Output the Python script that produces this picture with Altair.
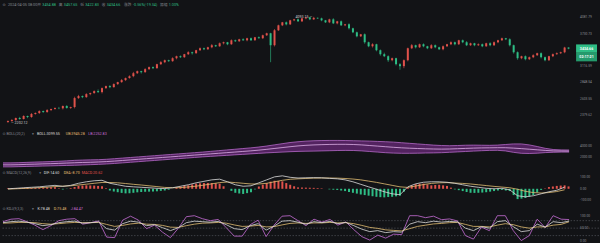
import altair as alt
import pandas as pd

# ---------------- data ----------------
closes = [
    2302, 2315, 2341, 2328, 2367, 2354, 2393, 2406, 2432, 2419,
    2446, 2460, 2473, 2470, 2501, 2475, 2487, 2613, 2642, 2627,
    2671, 2686, 2716, 2701, 2761, 2792, 2776, 2823, 2854, 2886,
    2918, 2950, 2998, 3032, 3015, 3066, 3100, 3083, 3151, 3186,
    3221, 3204, 3257, 3293, 3275, 3330, 3366, 3348, 3404, 3441,
    3422, 3460, 3499, 3479, 3537, 3557, 3518, 3596, 3577, 3616,
    3596, 3636, 3598, 3656, 3638, 3697, 3738, 3499, 3800, 3906,
    3971, 3927, 4015, 4037, 3993, 4059, 4082, 4037, 4070, 4059,
    4015, 3971, 4037, 3949, 3993, 3906, 3927, 3842, 3758, 3676,
    3717, 3557, 3479, 3518, 3404, 3330, 3293, 3221, 3257, 3151,
    3117, 3221, 3441, 3499, 3460, 3518, 3479, 3441, 3499, 3460,
    3422, 3479, 3518, 3557, 3518, 3596, 3557, 3499, 3537, 3499,
    3518, 3479, 3537, 3499, 3557, 3596, 3636, 3616, 3499, 3366,
    3257, 3293, 3239, 3275, 3311, 3348, 3275, 3221, 3293, 3330,
    3348, 3366, 3454.88, 3434.66,
]
first_open = 2290.0
wick_up = [
    8, 12, 6, 15, 10, 5, 14, 9, 11, 7,
    13, 6, 10, 16, 8, 12, 5, 20, 18, 9,
    14, 7, 11, 25, 10, 8, 15, 12, 6, 18,
    9, 14, 22, 10, 7, 16, 11, 13, 8, 20,
    12, 9, 17, 10, 14, 6, 19, 11, 8, 15,
    13, 10, 24, 9, 16, 12, 7, 18, 14, 10,
    20, 11, 15, 8, 17, 13, 12, 10, 26, 14,
    9, 18, 12, 12, 20, 11, 8, 6, 23.15, 10,
    16, 9, 14, 25, 11, 18, 10, 22, 13, 15,
    8, 17, 12, 20, 10, 14, 28, 16, 11, 9,
    19, 15, 12, 24, 10, 13, 17, 9, 21, 14,
    11, 16, 8, 18, 13, 10, 15, 22, 12, 9,
    17, 14, 11, 20, 16, 10, 13, 8, 19, 12,
    15, 9, 14, 11, 18, 10, 16, 12, 9, 13,
    15, 11, 14, 2.77,
]
wick_dn = [
    12, 9, 14, 10, 7, 15, 11, 8, 13, 10,
    9, 14, 8, 12, 16, 10, 13, 18, 11, 15,
    10, 17, 9, 14, 20, 12, 16, 8, 13, 11,
    15, 10, 18, 12, 22, 9, 14, 16, 11, 13,
    17, 12, 10, 20, 14, 11, 15, 25, 9, 13,
    16, 12, 19, 14, 10, 22, 18, 11, 15, 13,
    12, 20, 16, 14, 11, 18, 15, 313, 24, 13,
    17, 22, 14, 19, 12, 16, 21, 18, 13, 15,
    20, 14, 18, 16, 22, 13, 19, 25, 17, 21,
    15, 28, 18, 24, 20, 26, 16, 30, 19, 22,
    61, 35, 20, 16, 22, 14, 19, 17, 13, 18,
    15, 20, 12, 17, 21, 14, 18, 16, 13, 19,
    14, 17, 11, 20, 15, 18, 12, 16, 22, 25,
    28, 18, 20, 15, 17, 13, 22, 19, 14, 16,
    12, 15, 18, 11.83,
]
price_ticks = [4081.79, 3730.73, 3409.86, 3116.59, 2848.54, 2603.55, 2379.62]
boll_ticks = [2000, 4000]
macd_ticks = [-100, 0, 100]
kdj_ticks = [0, 50, 100]
peak_index = 78
peak_text = "4093.15 —"
low_index = 0
low_text = "— 2202.12"
countdown = "02:17:21"

boll_ub = [
    909, 909, 945, 1000, 1054, 1091, 1145, 1200, 1273, 1364,
    1418, 1455, 1491, 1564, 1673, 1782, 1891, 2000, 2109, 2218,
    2327, 2436, 2545, 2654, 2764, 2873, 3000, 3127, 3254, 3382,
    3509, 3636, 3782, 3964, 4182, 4400, 4618, 4763, 4872, 4945,
    4982, 5000, 5000, 4982, 4945, 4909, 4872, 4818, 4763, 4691,
    4582, 4473, 4364, 4254, 4145, 4073, 4036, 4073, 4127, 4145,
    4127, 4109, 4145, 4254, 4364, 4364, 4182, 3891, 3564, 3345,
    3273, 3254,
]
boll_mb = [
    546, 546, 582, 636, 673, 727, 764, 818, 873, 927,
    982, 1018, 1073, 1145, 1236, 1345, 1455, 1564, 1673, 1782,
    1891, 2000, 2109, 2218, 2327, 2436, 2545, 2654, 2764, 2873,
    2982, 3091, 3218, 3364, 3527, 3691, 3854, 4000, 4109, 4182,
    4236, 4273, 4291, 4291, 4254, 4182, 4073, 3964, 3854, 3745,
    3654, 3582, 3527, 3473, 3436, 3418, 3436, 3491, 3545, 3600,
    3636, 3654, 3673, 3673, 3600, 3509, 3400, 3291, 3182, 3091,
    3073, 3054,
]
boll_lb = [
    182, 182, 218, 255, 291, 327, 364, 400, 436, 473,
    527, 582, 636, 709, 800, 909, 1018, 1127, 1236, 1345,
    1455, 1564, 1673, 1782, 1891, 2000, 2091, 2182, 2273, 2364,
    2455, 2545, 2636, 2727, 2800, 2873, 2945, 3000, 3036, 3054,
    3091, 3127, 3164, 3182, 3164, 3091, 2982, 2873, 2764, 2691,
    2654, 2654, 2673, 2709, 2727, 2764, 2836, 2909, 2982, 3054,
    3127, 3182, 3200, 3091, 2836, 2654, 2618, 2673, 2782, 2836,
    2873, 2873,
]
macd_dif = [
    0, 4, 9, 13, 17, 24, 30, 21, 30, 48,
    61, 70, 74, 48, 35, 22, 17, 13, 9, 4,
    2, 9, 22, 35, 52, 65, 78, 84, 61, 35,
    22, 26, 52, 78, 104, 113, 100, 94, 96, 97,
    96, 91, 87, 78, 61, 39, 17, -4, -26, -44,
    -52, 17, 43, 57, 61, 61, 57, 48, 35, 22,
    13, 4, 0, 4, -9, -61, -70, -61, -44, -26,
    -13, 14.60,
]
macd_dea = [
    -3, 0, 3, 6, 10, 14, 19, 23, 26, 33,
    40, 48, 55, 55, 52, 46, 39, 33, 26, 19,
    12, 9, 10, 16, 23, 32, 43, 54, 59, 54,
    48, 42, 42, 48, 61, 74, 83, 87, 90, 93,
    94, 94, 93, 90, 85, 78, 67, 56, 43, 30,
    17, 12, 24, 37, 47, 52, 54, 50, 47, 42,
    35, 28, 21, 15, 9, -4, -22, -33, -37, -33,
    -24, -8.70,
]
macd_hist = [
    5, 5, 6, 7, 8, 9, 8, 8, 9, 10,
    12, 13, 14, 4, -6, -2, 6, 15, 25, 28,
    30, 29, 28, 25, 22, 5, -15, -24, -30, -36,
    -40, -38, -35, -31, -28, -26, -25, -24, -22, -18,
    -15, -8, 0, 10, 20, 26, 30, 38, 45, 48,
    50, 51, 50, 48, 45, 22, 0, -18, -35, -41,
    -45, -38, -30, -5, 20, 36, 50, 62, 70, 68,
    65, 50, 35, 22, 12, 11, 10, 9, 8, 6,
    4, 0, -5, -8, -10, -15, -20, -28, -35, -42,
    -50, -55, -60, -65, -70, -73, -75, -72, -70, -66,
    -60, -25, 10, 28, 40, 43, 45, 38, 30, 33,
    35, 30, 25, 10, -5, -12, -20, -28, -35, -36,
    -35, -33, -30, -25, -20, -15, -10, -15, -20, -55,
    -90, -86, -80, -68, -55, -32, -10, 3, 15, 20,
    25, 28, 30, 20.62,
]
kdj_k = [
    72, 76, 78, 74, 68, 60, 64, 72, 76, 78,
    70, 72, 75, 48, 42, 68, 78, 74, 60, 64,
    52, 40, 52, 72, 78, 76, 74, 77, 64, 48,
    44, 60, 68, 42, 58, 78, 80, 74, 66, 76,
    72, 77, 68, 73, 60, 46, 36, 40, 32, 36,
    34, 66, 76, 72, 78, 74, 77, 75, 50, 40,
    56, 50, 76, 80, 56, 36, 40, 66, 54, 76,
    72, 78.48,
]
kdj_d = [
    70, 71, 73, 73, 72, 68, 66, 68, 71, 73,
    72, 72, 73, 65, 57, 61, 67, 70, 66, 65,
    61, 54, 53, 60, 66, 70, 71, 73, 70, 63,
    57, 58, 61, 55, 56, 63, 69, 71, 69, 71,
    71, 73, 71, 72, 68, 61, 53, 49, 43, 41,
    39, 48, 57, 62, 67, 69, 72, 73, 65, 57,
    57, 55, 62, 68, 64, 55, 50, 55, 55, 62,
    65, 75.48,
]
kdj_j = [
    76, 86, 88, 76, 62, 44, 60, 80, 86, 88,
    66, 72, 79, 14, 12, 82, 98, 82, 48, 62,
    34, 12, 50, 96, 100, 88, 80, 85, 52, 18,
    18, 64, 82, 16, 62, 98, 100, 80, 60, 86,
    74, 85, 62, 75, 44, 16, 2, 22, 10, 26,
    24, 100, 100, 92, 98, 84, 87, 79, 20, 6,
    54, 40, 100, 100, 40, 0, 20, 86, 52, 100,
    86, 84.47,
]
kdj_levels = [80, 50, 20]

assert len(closes) == len(wick_up) == len(wick_dn) == len(macd_hist) == 144
for s in (boll_ub, boll_mb, boll_lb, macd_dif, macd_dea, kdj_k, kdj_d, kdj_j):
    assert len(s) == 72

# ---------------- style ----------------
BG = "#121316"
GRID = "#24262c"
LBL = "#8a8d94"
GRAY = "#868990"
RED = "#e0524b"
GREEN = "#2ebd85"
WHITE = "#dcdcdc"
YELLOW = "#e2be72"
PURPLE = "#c86fd8"
FONT = "Roboto"
CJK = "Noto Sans CJK SC"
W = 600
LABEL_X = 581

XS = alt.Scale(domain=[-0.5, 149.5], nice=False, zero=False)
grid_x = [3.25, 17, 31, 44.75, 58.75, 72.5, 86.5, 100.25, 114.25, 128, 142]
XAX = alt.Axis(values=grid_x, grid=True, gridColor=GRID, gridWidth=0.6, labels=False,
               ticks=False, domain=False, title=None)


def ygrid(vals):
    return alt.Axis(orient="right", values=vals, grid=True, gridColor=GRID, gridWidth=0.6,
                    labels=False, ticks=False, domain=False, title=None)


def tick_labels(vals, scale):
    df = pd.DataFrame({"v": vals, "t": [f"{v:.2f}" for v in vals]})
    return alt.Chart(df).mark_text(align="left", baseline="middle", fontSize=3.3, font=FONT,
                                   color=LBL).encode(
        x=alt.value(LABEL_X), y=alt.Y("v:Q", scale=scale, axis=None), text="t:N")


one = pd.DataFrame({"_": [0]})


def txt(s, x, y, color, size=3.8, font=FONT, weight="normal"):
    return alt.Chart(one).mark_text(align="left", baseline="middle", fontSize=size, font=font,
                                    color=color, fontWeight=weight).encode(
        x=alt.value(x), y=alt.value(y), text=alt.value(s))


# ---------------- main candles ----------------
opens = [first_open] + closes[:-1]
cdf = pd.DataFrame({"i": list(range(len(closes))), "open": opens, "close": closes})
cdf["high"] = [max(o, c) + w for o, c, w in zip(opens, closes, wick_up)]
cdf["low"] = [min(o, c) - w for o, c, w in zip(opens, closes, wick_dn)]
cdf["dir"] = ["up" if c >= o else "down" for o, c in zip(opens, closes)]

YS = alt.Scale(type="log", domain=[2240, 4482], nice=False, zero=False)
COL = alt.Color("dir:N", scale=alt.Scale(domain=["up", "down"], range=[RED, GREEN]), legend=None)

wicks = alt.Chart(cdf).mark_rule(strokeWidth=0.6).encode(
    x=alt.X("i:Q", scale=XS, axis=XAX),
    y=alt.Y("low:Q", scale=YS, axis=ygrid(price_ticks)),
    y2="high:Q", color=COL)
bodies = alt.Chart(cdf).mark_bar(size=2).encode(
    x=alt.X("i:Q", scale=XS, axis=None), y=alt.Y("open:Q", scale=YS, axis=None), y2="close:Q",
    color=COL)

peak_df = pd.DataFrame({"i": [peak_index], "p": [cdf["high"][peak_index]], "t": [peak_text]})
low_df = pd.DataFrame({"i": [low_index], "p": [cdf["low"][low_index]], "t": [low_text]})
peak_lbl = alt.Chart(peak_df).mark_text(align="right", baseline="middle", dx=-1.5, fontSize=3.6,
                                        font=FONT, color="#d0d0d0").encode(
    x=alt.X("i:Q", scale=XS, axis=None), y=alt.Y("p:Q", scale=YS, axis=None), text="t:N")
low_lbl = alt.Chart(low_df).mark_text(align="left", baseline="middle", dx=3, fontSize=3.6,
                                      font=FONT, color="#d0d0d0").encode(
    x=alt.X("i:Q", scale=XS, axis=None), y=alt.Y("p:Q", scale=YS, axis=None), text="t:N")

last_df = pd.DataFrame({"p": [closes[-1]], "t": [f"{closes[-1]:.2f}"], "c": [countdown]})
box_path = "M-1,-0.4L1,-0.4L1,0.4L-1,0.4Z"
badge_top = alt.Chart(last_df).mark_point(shape=box_path, size=441, filled=True, opacity=1,
                                          color=GREEN, strokeWidth=0).encode(
    x=alt.value(587.5), y=alt.Y("p:Q", scale=YS, axis=None))
badge_bot = alt.Chart(last_df).mark_point(shape=box_path, size=441, filled=True, opacity=1,
                                          color="#249a6c", strokeWidth=0, yOffset=8.6).encode(
    x=alt.value(587.5), y=alt.Y("p:Q", scale=YS, axis=None))
badge_t1 = alt.Chart(last_df).mark_text(align="center", baseline="middle", fontSize=3.6,
                                        font=FONT, fontWeight="bold", color="white").encode(
    x=alt.value(587.5), y=alt.Y("p:Q", scale=YS, axis=None), text="t:N")
badge_t2 = alt.Chart(last_df).mark_text(align="center", baseline="middle", fontSize=3.6,
                                        font=FONT, fontWeight="bold", color="white",
                                        yOffset=8.6).encode(
    x=alt.value(587.5), y=alt.Y("p:Q", scale=YS, axis=None), text="c:N")

hy = 4.5
main_header = [
    txt("⊙", 1.5, hy, GRAY, 3.8, "DejaVu Sans"),
    txt("2024-04-05 08:00", 7, hy, GRAY),
    txt("开", 36.3, hy, GRAY, font=CJK), txt("3454.88", 41.4, hy, GREEN),
    txt("高", 58, hy, GRAY, font=CJK), txt("3457.65", 63, hy, GREEN),
    txt("低", 79.5, hy, GRAY, font=CJK), txt("3422.83", 84.5, hy, GREEN),
    txt("收", 101, hy, GRAY, font=CJK), txt("3434.66", 106, hy, GREEN),
    txt("涨跌", 123.5, hy, GRAY, font=CJK), txt("-0.56%(-19.34)", 132.5, hy, GREEN),
    txt("振幅", 159.5, hy, GRAY, font=CJK), txt("1.00%", 168.3, hy, GREEN),
]

main = alt.layer(wicks, bodies, peak_lbl, low_lbl, tick_labels(price_ticks, YS),
                 badge_top, badge_bot, badge_t1, badge_t2,
                 *main_header).properties(width=W, height=126)

# ---------------- BOLL ----------------
idx2 = list(range(0, 144, 2))
bdf = pd.DataFrame({"i": idx2, "ub": boll_ub, "mb": boll_mb, "lb": boll_lb})
BS = alt.Scale(domain=[0, 7636], nice=False, zero=False)
band = alt.Chart(bdf).mark_area(color="#7e2f92", opacity=0.6).encode(
    x=alt.X("i:Q", scale=XS, axis=XAX), y=alt.Y("ub:Q", scale=BS, axis=ygrid(boll_ticks)),
    y2="lb:Q")


def bline(field, color, w=0.8):
    return alt.Chart(bdf).mark_line(color=color, strokeWidth=w).encode(
        x=alt.X("i:Q", scale=XS, axis=None), y=alt.Y(f"{field}:Q", scale=BS, axis=None))


by = 8
boll_header = [
    txt("⊙", 1.5, by, GRAY, 3.7, "DejaVu Sans"), txt("BOLL(20,2)", 5.5, by, GRAY, 3.7),
    txt("▾", 31, by, GRAY, 3.7, "DejaVu Sans"),
    txt("BOLL:3099.55", 36, by, WHITE, 3.7), txt("UB:3945.28", 65, by, YELLOW, 3.7),
    txt("LB:2252.83", 87.5, by, PURPLE, 3.7),
]
boll = alt.layer(band, bline("ub", "#b468c6"), bline("lb", "#b468c6"), bline("mb", "#dcaee6"),
                 tick_labels(boll_ticks, BS), *boll_header).properties(width=W, height=42)

# ---------------- MACD ----------------
MS = alt.Scale(domain=[-156.5, 174], nice=False, zero=False)
hdf = pd.DataFrame({"i": list(range(144)), "h": macd_hist})
hdf["s"] = ["pos" if v >= 0 else "neg" for v in macd_hist]
mdf = pd.DataFrame({"i": idx2, "dif": macd_dif, "dea": macd_dea})
hist = alt.Chart(hdf).mark_bar(size=2).encode(
    x=alt.X("i:Q", scale=XS, axis=XAX), y=alt.Y("h:Q", scale=MS, axis=ygrid(macd_ticks)),
    y2=alt.datum(0),
    color=alt.Color("s:N", scale=alt.Scale(domain=["pos", "neg"], range=[RED, GREEN]), legend=None))


def mline(field, color):
    return alt.Chart(mdf).mark_line(color=color, strokeWidth=0.8).encode(
        x=alt.X("i:Q", scale=XS, axis=None), y=alt.Y(f"{field}:Q", scale=MS, axis=None))


my = 4
macd_header = [
    txt("⊙", 1.5, my, GRAY, 3.7, "DejaVu Sans"), txt("MACD(12,26,9)", 5.5, my, GRAY, 3.7),
    txt("▾", 38.5, my, GRAY, 3.7, "DejaVu Sans"),
    txt("DIF:14.60", 43, my, WHITE, 3.7), txt("DEA:-8.70", 63, my, YELLOW, 3.7),
    txt("MACD:20.62", 81, my, RED, 3.7),
]
macd = alt.layer(hist, mline("dea", YELLOW), mline("dif", WHITE), tick_labels(macd_ticks, MS),
                 *macd_header).properties(width=W, height=38)

# ---------------- KDJ ----------------
KS = alt.Scale(domain=[-12, 136], nice=False, zero=False)
kdf = pd.DataFrame({"i": idx2, "k": kdj_k, "d": kdj_d, "j": kdj_j})
ldf = pd.DataFrame({"lv": kdj_levels})
levels = alt.Chart(ldf).mark_rule(color="#5c5f66", strokeWidth=0.6, strokeDash=[1.5, 1.5]).encode(
    y=alt.Y("lv:Q", scale=KS, axis=ygrid(kdj_ticks)))


def kline(field, color, first=False):
    return alt.Chart(kdf).mark_line(color=color, strokeWidth=0.8, clip=True).encode(
        x=alt.X("i:Q", scale=XS, axis=XAX if first else None),
        y=alt.Y(f"{field}:Q", scale=KS, axis=None))


ky = 2.4
kdj_header = [
    txt("⊙", 1.5, ky, GRAY, 3.7, "DejaVu Sans"), txt("KDJ(9,3,3)", 5.5, ky, GRAY, 3.7),
    txt("▾", 31, ky, GRAY, 3.7, "DejaVu Sans"),
    txt("K:78.48", 36.5, ky, WHITE, 3.7), txt("D:75.48", 53, ky, YELLOW, 3.7),
    txt("J:84.47", 70, ky, PURPLE, 3.7),
]
kdj = alt.layer(levels, kline("j", PURPLE, True), kline("d", YELLOW), kline("k", WHITE),
                tick_labels(kdj_ticks, KS), *kdj_header).properties(width=W, height=37)

chart = alt.vconcat(main, boll, macd, kdj, spacing=0).properties(
    background=BG, padding=0
).configure_view(stroke=None)

chart.save("out.html", embed_options={"renderer": "svg", "actions": False})
